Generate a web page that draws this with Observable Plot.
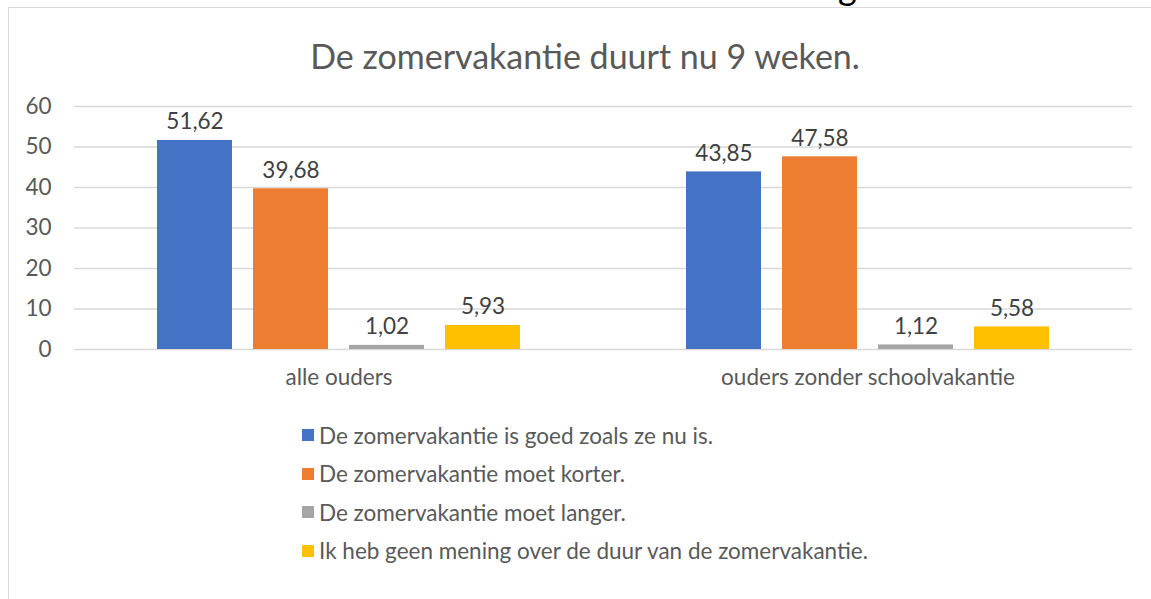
<!DOCTYPE html>
<html>
<head>
<meta charset="utf-8">
<script src="https://cdn.jsdelivr.net/npm/d3@7"></script>
<script src="https://cdn.jsdelivr.net/npm/@observablehq/plot@0.6"></script>
<style>
  html, body { margin: 0; padding: 0; background: #fff; overflow: hidden; }
  #wrap { position: relative; width: 1151px; height: 599px; overflow: hidden; font-family: Lato, "Open Sans", sans-serif; color: #595959; }
  #frame { position: absolute; left: 8px; top: 7px; width: 1300px; height: 800px; border: 1px solid #d9d9d9; }
  #frag { position: absolute; left: 838px; top: -32px; font-size: 36px; line-height: 36px; color: #000; font-family: Lato, sans-serif; }
  #title { position: absolute; left: 0; width: 1170px; top: 37px; text-align: center; font-size: 34px; line-height: 38px; color: #595959; }
  #chart { position: absolute; left: 0; top: 0; }
  #legend { position: absolute; left: 302px; top: 416px; }
  .row { display: flex; align-items: center; height: 38.5px; font-size: 22.5px; color: #595959; }
  .sw { width: 12px; height: 12px; margin-right: 5px; flex: none; }
</style>
</head>
<body>
<div id="wrap">
  <div id="frame"></div>
  <div id="frag">g</div>
  <div id="title">De zomervakantie duurt nu 9 weken.</div>
  <div id="chart"></div>
  <div id="legend"></div>
</div>
<script>
const groups = ["alle ouders", "ouders zonder schoolvakantie"];
const series = [
  "De zomervakantie is goed zoals ze nu is.",
  "De zomervakantie moet korter.",
  "De zomervakantie moet langer.",
  "Ik heb geen mening over de duur van de zomervakantie."
];
const alleOuders = [51.62, 39.68, 1.02, 5.93];
const oudersZonderSchoolvakantie = [43.85, 47.58, 1.12, 5.58];
const colors = ["#4472C4", "#ED7D31", "#A5A5A5", "#FFC000"];
const yTicks = [0, 10, 20, 30, 40, 50, 60];

const valuesByGroup = [alleOuders, oudersZonderSchoolvakantie];
const data = [];
groups.forEach((g, gi) => {
  series.forEach((s, si) => {
    data.push({group: g, series: s, value: valuesByGroup[gi][si]});
  });
});

const chart = Plot.plot({
  width: 1151,
  height: 400,
  marginLeft: 73,
  marginRight: 19,
  marginTop: 106,
  marginBottom: 51,
  style: {fontFamily: "Lato, 'Open Sans', sans-serif", fontSize: "22.5px", color: "#595959", background: "transparent", overflow: "visible"},
  facet: {data, x: "group"},
  fx: {domain: groups, padding: 0, label: null, tickSize: 0, tickPadding: 20, axis: "bottom"},
  x: {domain: series, paddingInner: 0.21875, paddingOuter: 0.86, axis: null},
  y: {domain: [0, 60], ticks: yTicks, tickSize: 0, tickPadding: 23, label: null, tickFormat: d => String(d)},
  color: {domain: series, range: colors},
  marks: [
    Plot.ruleY(yTicks, {stroke: "#d9d9d9", strokeWidth: 1.3}),
    Plot.barY(data, {x: "series", y: "value", fill: "series"}),
    Plot.text(data, {
      x: "series", y: "value",
      text: d => d.value.toFixed(2).replace(".", ","),
      lineAnchor: "bottom", dy: -11, fill: "#404040", fontSize: 22.5
    })
  ]
});
document.getElementById("chart").appendChild(chart);

const legend = document.getElementById("legend");
series.forEach((s, i) => {
  const row = document.createElement("div");
  row.className = "row";
  const sw = document.createElement("span");
  sw.className = "sw";
  sw.style.background = colors[i];
  const tx = document.createElement("span");
  tx.textContent = s;
  row.appendChild(sw);
  row.appendChild(tx);
  legend.appendChild(row);
});
</script>
</body>
</html>
